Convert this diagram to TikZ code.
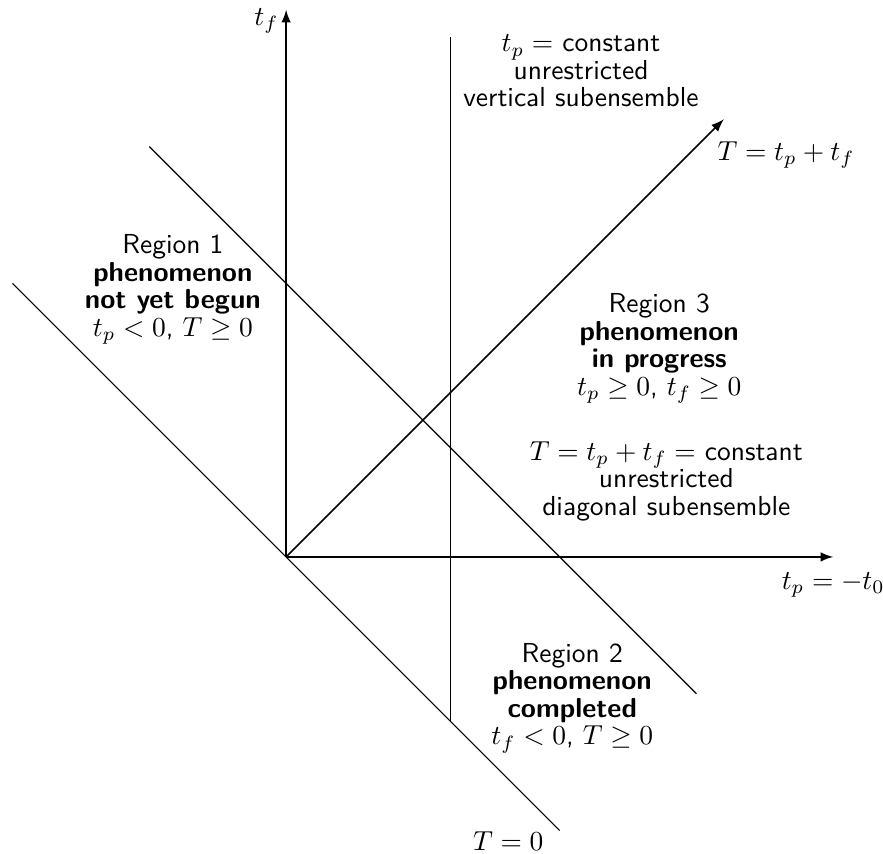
\documentclass[tikz,border=0pt]{standalone}
\usetikzlibrary{arrows,positioning}
\usepackage{amsmath}
\usepackage{amssymb}
\begin{document}
\begin{tikzpicture}[x=0.7cm,y=0.7cm,>=latex,
    region/.style={font=\fontsize{10pt}{10pt}\selectfont\sffamily,align=center},
    axis/.style={semithick,->}]
    \useasboundingbox (-5.23,-5.43) rectangle (10.91,10.18);
    \coordinate (O) at (0,0);
    \coordinate (tf) at (0,10);
    \coordinate (tp) at (10,0);
    \coordinate (T) at (8,8);
    \coordinate (vtop) at (3,9.5);
    \coordinate (vbot) at (3,-3);
    \coordinate (za) at (-5,5);
    \coordinate (zb) at (5,-5);
    \coordinate (ca) at (-2.5,7.5);
    \coordinate (cb) at (7.5,-2.5);
    % axes
    \draw[axis] (O) -- (tf);
    \draw[axis] (O) -- (tp);
    \draw[axis] (O) -- (T);
    % subensembles
    \draw (vtop) -- (vbot);
    \draw (za) -- (zb);
    \draw (ca) -- (cb);
    % labels
    \node (tflbl) at (-0.36,9.8) {$t_f$};
    \node (tplbl) [below=2pt of tp] {$t_p=-t_0$};
    \node (Tlbl) at (9.14,7.35) {$T=t_p+t_f$};
    \node (zlbl) at (4.06,-5.2) {$T=0$};
    \node[region] (vlbl) at (5.39,8.88) {$t_p=$ constant\\unrestricted\\vertical subensemble};
    \node[region] (dlbl) at (6.95,1.38) {$T=t_p+t_f=$ constant\\unrestricted\\diagonal subensemble};
    \node[region] (r1) at (-2.07,4.89) {Region 1\\\textbf{phenomenon}\\\textbf{not yet begun}\\$t_p<0$, $T\geq 0$};
    \node[region] (r3) at (6.82,3.81) {Region 3\\\textbf{phenomenon}\\\textbf{in progress}\\$t_p\geq 0$, $t_f\geq 0$};
    \node[region] (r2) at (5.23,-2.58) {Region 2\\\textbf{phenomenon}\\\textbf{completed}\\$t_f<0$, $T\geq 0$};
\end{tikzpicture}
\end{document}
